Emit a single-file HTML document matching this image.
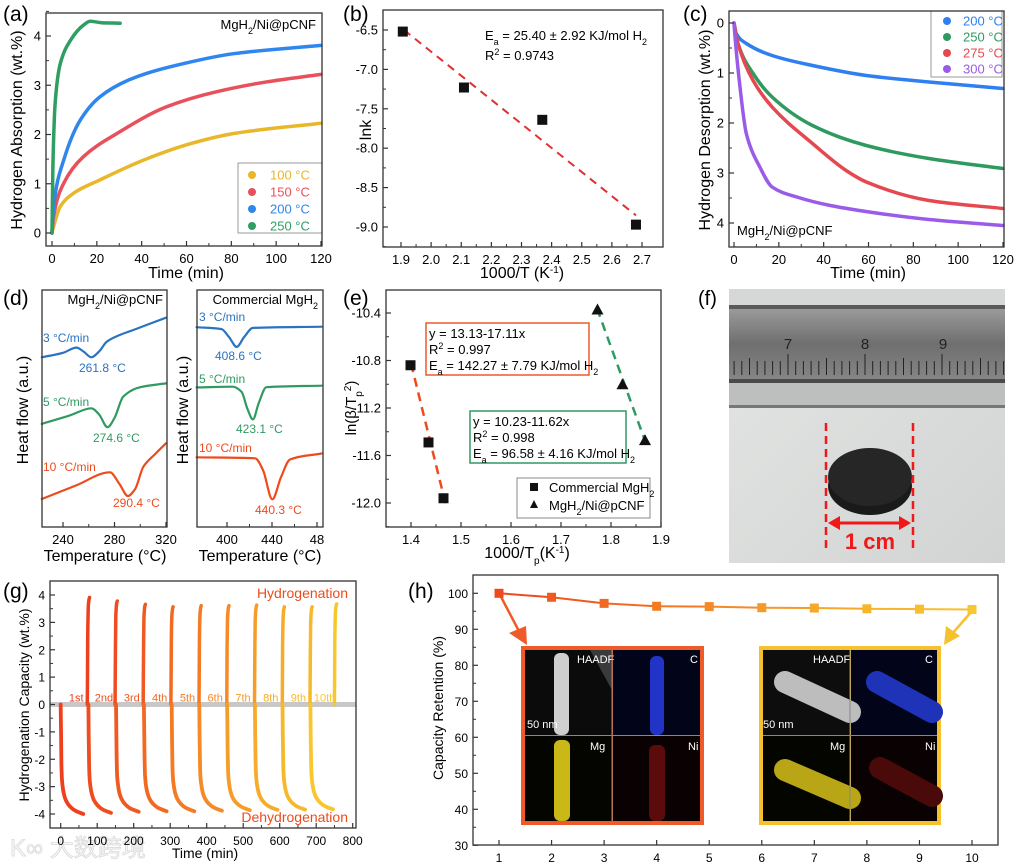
<!DOCTYPE html>
<html><head><meta charset="utf-8"><style>
html,body{margin:0;padding:0;background:#fff;}
svg{display:block;font-family:"Liberation Sans","Noto Sans CJK SC",sans-serif;}
</style></head><body>
<svg id="fig" width="1014" height="865" viewBox="0 0 1014 865">
<defs>
<linearGradient id="rulerG" x1="0" y1="0" x2="0" y2="1"><stop offset="0" stop-color="#9a9a9a"/><stop offset="0.5" stop-color="#6f6f6f"/><stop offset="1" stop-color="#858585"/></linearGradient>
<linearGradient id="bgG" x1="0" y1="0" x2="1" y2="1"><stop offset="0" stop-color="#e4e6e5"/><stop offset="1" stop-color="#d2d4d3"/></linearGradient>
</defs>
<text x="3" y="21" font-size="21">(a)</text>
<text x="343" y="21" font-size="21">(b)</text>
<text x="683" y="21" font-size="21">(c)</text>
<text x="3" y="305" font-size="21">(d)</text>
<text x="343" y="305" font-size="21">(e)</text>
<text x="698" y="305" font-size="20">(f)</text>
<text x="3" y="598" font-size="21">(g)</text>
<text x="408" y="598" font-size="21">(h)</text>

<text transform="translate(22,130) rotate(-90)" text-anchor="middle" font-size="16">Hydrogen Absorption (wt.%)</text>
<text x="186" y="278" text-anchor="middle" font-size="16">Time (min)</text>
<text transform="translate(371,130) rotate(-90)" text-anchor="middle" font-size="16">lnk</text>
<text x="522" y="278" text-anchor="middle" font-size="16">1000/T (K<tspan baseline-shift="super" font-size="10">-1</tspan>)</text>
<text transform="translate(710,130) rotate(-90)" text-anchor="middle" font-size="16">Hydrogen Desorption (wt.%)</text>
<text x="868" y="278" text-anchor="middle" font-size="16">Time (min)</text>
<text transform="translate(28,410) rotate(-90)" text-anchor="middle" font-size="16">Heat flow (a.u.)</text>
<text transform="translate(188,410) rotate(-90)" text-anchor="middle" font-size="16">Heat flow (a.u.)</text>
<text x="105" y="561" text-anchor="middle" font-size="16">Temperature (°C)</text>
<text x="260" y="561" text-anchor="middle" font-size="16">Temperature (°C)</text>
<text transform="translate(356,408) rotate(-90)" text-anchor="middle" font-size="15">ln(β/T<tspan baseline-shift="sub" font-size="10">p</tspan><tspan baseline-shift="super" font-size="10">2</tspan>)</text>
<text x="527" y="558" text-anchor="middle" font-size="16">1000/T<tspan baseline-shift="sub" font-size="10">p</tspan>(K<tspan baseline-shift="super" font-size="10">-1</tspan>)</text>
<text transform="translate(29,705) rotate(-90)" text-anchor="middle" font-size="14">Hydrogenation Capacity (wt.%)</text>
<text x="205" y="858" text-anchor="middle" font-size="14">Time (min)</text>
<text transform="translate(443,708) rotate(-90)" text-anchor="middle" font-size="14">Capacity Retention (%)</text>

<text x="316" y="29" text-anchor="end" font-size="13">MgH<tspan baseline-shift="sub" font-size="9">2</tspan>/Ni@pCNF</text>
<text x="485" y="40" font-size="13">E<tspan baseline-shift="sub" font-size="9">a</tspan> = 25.40 ± 2.92 KJ/mol H<tspan baseline-shift="sub" font-size="9">2</tspan></text>
<text x="485" y="60" font-size="13">R<tspan baseline-shift="super" font-size="9">2</tspan> = 0.9743</text>
<text x="737" y="235" font-size="13">MgH<tspan baseline-shift="sub" font-size="9">2</tspan>/Ni@pCNF</text>
<text x="163" y="304" text-anchor="end" font-size="13">MgH<tspan baseline-shift="sub" font-size="9">2</tspan>/Ni@pCNF</text>
<text x="318" y="304" text-anchor="end" font-size="13">Commercial MgH<tspan baseline-shift="sub" font-size="9">2</tspan></text>
<g font-size="12">
<text x="43" y="342" fill="#2a73c0">3 °C/min</text>
<text x="79" y="372" fill="#2a73c0">261.8 °C</text>
<text x="43" y="406" fill="#2f9a62">5 °C/min</text>
<text x="93" y="442" fill="#2f9a62">274.6 °C</text>
<text x="43" y="471" fill="#ee4b1c">10 °C/min</text>
<text x="113" y="507" fill="#ee4b1c">290.4 °C</text>
<text x="199" y="321" fill="#2a73c0">3 °C/min</text>
<text x="215" y="360" fill="#2a73c0">408.6 °C</text>
<text x="199" y="383" fill="#2f9a62">5 °C/min</text>
<text x="236" y="433" fill="#2f9a62">423.1 °C</text>
<text x="199" y="452" fill="#ee4b1c">10 °C/min</text>
<text x="255" y="514" fill="#ee4b1c">440.3 °C</text>
</g>
<rect x="426" y="323" width="163" height="52" fill="none" stroke="#ee5a2a" stroke-width="1.5"/>
<g font-size="13">
<text x="429" y="338">y = 13.13-17.11x</text>
<text x="429" y="354">R<tspan baseline-shift="super" font-size="9">2</tspan> = 0.997</text>
<text x="429" y="370">E<tspan baseline-shift="sub" font-size="9">a</tspan> = 142.27 ± 7.79 KJ/mol H<tspan baseline-shift="sub" font-size="9">2</tspan></text>
</g>
<rect x="470" y="411" width="156" height="52" fill="none" stroke="#2f9a62" stroke-width="1.5"/>
<g font-size="13">
<text x="473" y="426">y = 10.23-11.62x</text>
<text x="473" y="442">R<tspan baseline-shift="super" font-size="9">2</tspan> = 0.998</text>
<text x="473" y="458">E<tspan baseline-shift="sub" font-size="9">a</tspan> = 96.58 ± 4.16 KJ/mol H<tspan baseline-shift="sub" font-size="9">2</tspan></text>
</g>
<rect x="517" y="478" width="133" height="40" fill="#fff" stroke="#888" stroke-width="1"/>
<rect x="530" y="483" width="8" height="8" fill="#111"/>
<text x="549" y="492" font-size="13">Commercial MgH<tspan baseline-shift="sub" font-size="9">2</tspan></text>
<polygon points="534,500 530,508 538,508" fill="#111"/>
<text x="549" y="510" font-size="13">MgH<tspan baseline-shift="sub" font-size="9">2</tspan>/Ni@pCNF</text>
<text x="348" y="598" text-anchor="end" font-size="14" fill="#ee4b1c">Hydrogenation</text>
<text x="348" y="822" text-anchor="end" font-size="14" fill="#ee4b1c">Dehydrogenation</text>

<rect x="238" y="163" width="84" height="70" fill="#fff" stroke="#999"/>
<rect x="931" y="11" width="71" height="66" fill="#fff" stroke="#999"/>

<g>
<rect x="729" y="289" width="276" height="274" fill="url(#bgG)"/>
<rect x="729" y="289" width="276" height="18" fill="#d6d8d7"/>
<rect x="729" y="305" width="276" height="4" fill="#5a5a5a"/>
<rect x="729" y="309" width="276" height="70" fill="url(#rulerG)"/>
<rect x="729" y="379" width="276" height="4" fill="#4a4a4a"/>
<rect x="729" y="383" width="276" height="22" fill="#bdbfbe"/>
<rect x="729" y="405" width="276" height="3" fill="#777"/>
<g id="rulerTicks" stroke="#222" stroke-width="1"></g>
<text x="788" y="349" text-anchor="middle" font-size="15" fill="#222">7</text>
<text x="865" y="349" text-anchor="middle" font-size="15" fill="#222">8</text>
<text x="943" y="349" text-anchor="middle" font-size="15" fill="#222">9</text>
<ellipse cx="870" cy="486" rx="42" ry="29" fill="#1a1a1a"/>
<ellipse cx="870" cy="477" rx="42" ry="29" fill="#262626"/>
<line x1="826" y1="423" x2="826" y2="553" stroke="#f01818" stroke-width="2.5" stroke-dasharray="8,5"/>
<line x1="913" y1="423" x2="913" y2="553" stroke="#f01818" stroke-width="2.5" stroke-dasharray="8,5"/>
<line x1="833" y1="523" x2="906" y2="523" stroke="#f01818" stroke-width="3"/>
<polygon points="828,523 840,516 840,530" fill="#f01818"/>
<polygon points="911,523 899,516 899,530" fill="#f01818"/>
<text x="870" y="549" text-anchor="middle" font-size="22" font-weight="bold" fill="#f01818">1 cm</text>
</g>

<g>
<rect x="521" y="646" width="183" height="179" fill="#ee5a2a"/>
<rect x="525" y="650" width="87" height="85" fill="#0b0b0b"/>
<rect x="613" y="650" width="87" height="85" fill="#02041a"/>
<rect x="525" y="736" width="87" height="85" fill="#050500"/>
<rect x="613" y="736" width="87" height="85" fill="#0a0202"/>
<polygon points="590,650 612,650 612,690" fill="#3a3a3a"/>
<rect x="554" y="653" width="15" height="82" rx="6" fill="#cfcfcf"/>
<rect x="650" y="656" width="14" height="79" rx="6" fill="#2234c8"/>
<rect x="554" y="740" width="16" height="81" rx="6" fill="#c9b818"/>
<rect x="649" y="745" width="16" height="76" rx="6" fill="#5a0c0c"/>
<text x="577" y="663" font-size="11" fill="#fff">HAADF</text>
<text x="690" y="663" font-size="11" fill="#fff">C</text>
<text x="590" y="750" font-size="11" fill="#fff">Mg</text>
<text x="688" y="750" font-size="11" fill="#fff">Ni</text>
<text x="527" y="728" font-size="11" fill="#fff">50 nm</text>
<line x1="612" y1="650" x2="612" y2="821" stroke="#888"/><line x1="525" y1="735.5" x2="700" y2="735.5" stroke="#888"/>
</g>
<g>
<rect x="759" y="646" width="182" height="179" fill="#f5c12e"/>
<rect x="763" y="650" width="87" height="85" fill="#0d0d0d"/>
<rect x="851" y="650" width="86" height="85" fill="#02041a"/>
<rect x="763" y="736" width="87" height="85" fill="#050500"/>
<rect x="851" y="736" width="86" height="85" fill="#0a0202"/>
<line x1="785" y1="682" x2="850" y2="712" stroke="#bdbdbd" stroke-width="22" stroke-linecap="round"/>
<line x1="877" y1="682" x2="932" y2="712" stroke="#1f33b8" stroke-width="22" stroke-linecap="round"/>
<line x1="785" y1="770" x2="850" y2="798" stroke="#b8a616" stroke-width="22" stroke-linecap="round"/>
<line x1="880" y1="768" x2="932" y2="796" stroke="#4a0a0a" stroke-width="22" stroke-linecap="round"/>
<text x="813" y="663" font-size="11" fill="#fff">HAADF</text>
<text x="925" y="663" font-size="11" fill="#fff">C</text>
<text x="830" y="750" font-size="11" fill="#fff">Mg</text>
<text x="925" y="750" font-size="11" fill="#fff">Ni</text>
<text x="763" y="728" font-size="11" fill="#fff">50 nm</text>
<line x1="850" y1="650" x2="850" y2="821" stroke="#888"/><line x1="763" y1="735.5" x2="937" y2="735.5" stroke="#888"/>
</g>
<line x1="499" y1="593" x2="521" y2="635" stroke="#ee5a2a" stroke-width="2.5"/>
<polygon points="527,645 509,633 526,626" fill="#ee5a2a"/>
<line x1="972" y1="611" x2="952" y2="634" stroke="#f5c12e" stroke-width="2.5"/>
<polygon points="944,645 946,626 960,636" fill="#f5c12e"/>

<text x="10" y="856" font-size="24" fill="#f8f8f8" stroke="#dadada" stroke-width="0.8">K∞ 大数跨境</text>
<g id="dyn"></g>
</svg>
<script>
const aTime100=[0,0.7,3.7,9.7,21.5,40.8,60,81,120];
const aVal100=[0,0.13,0.54,0.81,1.08,1.48,1.79,2.02,2.23];
const aTime150=[0,0.7,5.2,14,29,51,73.5,96,120];
const aVal150=[0,0.34,1.01,1.55,2.02,2.56,2.87,3.07,3.22];
const aTime200=[0,0.7,5.2,12.6,21.5,36,58.7,81,120];
const aVal200=[0,0.54,1.48,2.29,2.77,3.14,3.44,3.64,3.81];
const aTime250=[0,0.4,1.5,3.7,8.2,14,17,22,30.4];
const aVal250=[0,1.35,2.7,3.44,3.91,4.22,4.3,4.27,4.26];
const aLegend=['100 °C','150 °C','200 °C','250 °C'];

const bX=[1.906,2.109,2.369,2.68];
const bY=[-6.52,-7.23,-7.64,-8.97];
const bFit=[-0.665,-3.055];
const bFitRange=[1.91,2.68];

const cTime200=[0,1,5.5,17,35,59,87,120];
const cVal200=[0,0.21,0.41,0.65,0.85,1.05,1.18,1.31];
const cTime250=[0,1.8,8.5,17,35,59,87,120];
const cVal250=[0,0.41,1.01,1.48,2.05,2.45,2.71,2.91];
const cTime275=[0,1.8,8.5,17,35,50,59,87,120];
const cVal275=[0,0.41,1.15,1.68,2.41,2.95,3.18,3.55,3.71];
const cTime300=[0,0.7,2.5,5.5,11.5,17,28,43,65,87,120];
const cVal300=[0,0.41,1.21,2.21,2.88,3.28,3.48,3.65,3.81,3.93,4.05];
const cLegend=['200 °C','250 °C','275 °C','300 °C'];

const d1T3=[223.5,240,250.6,256,262,268,274,284,294.4,320];
const d1V3=[71.6,73.5,75.7,74,71.6,74,78.2,81,83.1,88.3];
const d1T5=[223.5,245,262,268,274.6,280,286.8,300,320];
const d1V5=[43.5,47,50.1,47.5,42.1,46,55,59,60.6];
const d1T10=[223.5,250,276.5,284,290.4,296,302.4,312,320];
const d1V10=[11.8,17.5,23.1,18,13.1,16,25.4,31,35.3];
const d2T3=[373,395,402,408.6,415,423,484];
const d2V3=[84.3,83.5,80,76,80,84,84.5];
const d2T5=[373,405,413,418,423.1,428,435,484];
const d2V5=[58.9,59.2,57,50,45.4,52,59,59.6];
const d2T10=[373,425,432,440.3,448,456,484];
const d2V10=[29.4,29,24,11.7,21,28.5,31];

const eXc=[1.399,1.435,1.465];
const eYc=[-10.84,-11.49,-11.96];
const eXn=[1.773,1.823,1.868];
const eYn=[-10.37,-11.0,-11.47];
const eFitC=[13.13,-17.11]; const eFitCRange=[1.40,1.47];
const eFitN=[10.23,-11.62]; const eFitNRange=[1.772,1.87];

const gDehydStart=[0,75.8,151.6,228,304,379.6,456,532,607.6,684];
const gDehydMin=[-4.0,-3.96,-3.92,-3.9,-3.9,-3.88,-3.86,-3.85,-3.84,-3.83];
const gHydroStart=[73,149,226,302,379,455,531,607,683,750];
const gHydroPeak=[3.91,3.78,3.66,3.57,3.61,3.61,3.63,3.57,3.57,3.67];
const gLabels=['1st','2nd','3rd','4th','5th','6th','7th','8th','9th','10th'];
const gDehydShapeT=[0,1,2,3,5,9,15,25,40,62];
const gDehydShapeF=[0,0.3,0.55,0.66,0.74,0.82,0.88,0.93,0.97,1.0];
const gHydroShapeT=[0,1,2,3,4.5,6];
const gHydroShapeF=[0,0.6,0.85,0.93,0.98,1.0];

const hCycle=[1,2,3,4,5,6,7,8,9,10];
const hRetention=[100,98.9,97.2,96.4,96.3,96.0,95.9,95.7,95.6,95.5];

const NS='http://www.w3.org/2000/svg';
const root=document.getElementById('dyn');
function lin(d0,d1,p0,p1){return v=>p0+(v-d0)*(p1-p0)/(d1-d0);}
function mk(tag,attrs,name,parent){
  const e=document.createElementNS(NS,tag);
  for(const k in attrs) e.setAttribute(k,attrs[k]);
  
  
  (parent||root).appendChild(e);
  return e;
}
function frame(b,name){mk('rect',{x:b[0],y:b[1],width:b[2]-b[0],height:b[3]-b[1],fill:'none',stroke:'#333','stroke-width':1.3},name);}
function xticks(b,sx,majors,labels,minors,name,fs){
  majors.forEach((v,i)=>{
    const x=sx(v);
    mk('line',{x1:x,y1:b[3],x2:x,y2:b[3]-5,stroke:'#333','stroke-width':1.2},name+'-tick');
    const t=mk('text',{x:x,y:b[3]+17,'text-anchor':'middle','font-size':fs||13},name+'-tick-label');
    t.textContent=labels[i];
  });
  (minors||[]).forEach(v=>{const x=sx(v);mk('line',{x1:x,y1:b[3],x2:x,y2:b[3]-3,stroke:'#333'},name+'-minor-tick');});
}
function yticks(b,sy,majors,labels,minors,name,fs){
  majors.forEach((v,i)=>{
    const y=sy(v);
    mk('line',{x1:b[0],y1:y,x2:b[0]+5,y2:y,stroke:'#333','stroke-width':1.2},name+'-tick');
    const t=mk('text',{x:b[0]-5,y:y+4.5,'text-anchor':'end','font-size':fs||13},name+'-tick-label');
    t.textContent=labels[i];
  });
  (minors||[]).forEach(v=>{const y=sy(v);mk('line',{x1:b[0],y1:y,x2:b[0]+3,y2:y,stroke:'#333'},name+'-minor-tick');});
}
function range(a,b,s){const r=[];for(let v=a;v<=b+1e-9;v+=s)r.push(+v.toFixed(4));return r;}
// monotone cubic spline in pixel space
function smoothD(px,py){
  const n=px.length; if(n<3){let d='M'+px[0]+','+py[0];for(let i=1;i<n;i++)d+='L'+px[i]+','+py[i];return d;}
  const dx=[],s=[];for(let i=0;i<n-1;i++){dx.push(px[i+1]-px[i]);s.push((py[i+1]-py[i])/(dx[i]||1e-6));}
  const m=[s[0]];for(let i=1;i<n-1;i++){m.push(s[i-1]*s[i]<=0?0:(3*(dx[i-1]+dx[i]))/((2*dx[i]+dx[i-1])/s[i-1]+(dx[i]+2*dx[i-1])/s[i]));}
  m.push(s[n-2]);
  let d='M'+px[0].toFixed(1)+','+py[0].toFixed(1);
  for(let i=0;i<n-1;i++){const h=dx[i]/3;
    d+='C'+(px[i]+h).toFixed(1)+','+(py[i]+m[i]*h).toFixed(1)+' '+(px[i+1]-h).toFixed(1)+','+(py[i+1]-m[i+1]*h).toFixed(1)+' '+px[i+1].toFixed(1)+','+py[i+1].toFixed(1);}
  return d;
}
function path(xs,ys,sx,sy,attrs,name){
  const d=smoothD(xs.map(sx),ys.map(sy));
  const a=Object.assign({d:d,fill:'none','stroke-linejoin':'round','stroke-linecap':'round'},attrs);
  return mk('path',a,name);
}

const A=[46,13,322,246], axA=lin(0,120,52,321), ayA=lin(0,4,233,36);
path(aTime100,aVal100,axA,ayA,{stroke:'#e8b72a','stroke-width':3.5},'curve-100c');
path(aTime150,aVal150,axA,ayA,{stroke:'#e8505b','stroke-width':3.5},'curve-150c');
path(aTime200,aVal200,axA,ayA,{stroke:'#2f86ef','stroke-width':3.5},'curve-200c');
path(aTime250,aVal250,axA,ayA,{stroke:'#2e9e63','stroke-width':3.5},'curve-250c');
frame(A,'plot-frame-a');
xticks(A,axA,range(0,120,20),range(0,120,20).map(String),range(10,110,20),'x-axis-a');
yticks(A,ayA,range(0,4,1),range(0,4,1).map(String),range(0.5,4.5,1),'y-axis-a');
const aCols=['#e8b72a','#e8505b','#2f86ef','#2e9e63'];
aLegend.forEach((s,i)=>{const y=175+i*17;
  mk('circle',{cx:252,cy:y,r:4,fill:aCols[i]},'legend-marker-a');
  const t=mk('text',{x:270,y:y+4.5,'font-size':13,fill:aCols[i]},'legend-entry-a');t.textContent=s;});

const B=[383,10,663,247], axB=lin(1.9,2.7,401,642), ayB=lin(-6.5,-9,30,227);
mk('line',{x1:axB(bFitRange[0]),y1:ayB(bFit[0]+bFit[1]*bFitRange[0]),x2:axB(bFitRange[1]),y2:ayB(bFit[0]+bFit[1]*bFitRange[1]),stroke:'#e03030','stroke-width':2,'stroke-dasharray':'8,6'},'fit-line-b');
bX.forEach((x,i)=>{mk('rect',{x:axB(x)-5,y:ayB(bY[i])-5,width:10,height:10,fill:'#111'},'data-point-b');});
frame(B,'plot-frame-b');
const bxt=range(1.9,2.7,0.1);
xticks(B,axB,bxt,bxt.map(v=>v.toFixed(1)),range(1.95,2.65,0.1),'x-axis-b');
const byt=[-6.5,-7,-7.5,-8,-8.5,-9];
yticks(B,ayB,byt,byt.map(v=>v.toFixed(1)),[-6.75,-7.25,-7.75,-8.25,-8.75,-9.25],'y-axis-b');

const C=[729,11,1004,247], axC=lin(0,120,734,1003), ayC=lin(0,4,23,223);
const cCols=['#2f7ff0','#2f9a5f','#e5484f','#9a5ce8'];
path(cTime200,cVal200,axC,ayC,{stroke:cCols[0],'stroke-width':3.5},'curve-200c-desorb');
path(cTime250,cVal250,axC,ayC,{stroke:cCols[1],'stroke-width':3.5},'curve-250c-desorb');
path(cTime275,cVal275,axC,ayC,{stroke:cCols[2],'stroke-width':3.5},'curve-275c-desorb');
path(cTime300,cVal300,axC,ayC,{stroke:cCols[3],'stroke-width':3.5},'curve-300c-desorb');
frame(C,'plot-frame-c');
xticks(C,axC,range(0,120,20),range(0,120,20).map(String),range(10,110,20),'x-axis-c');
yticks(C,ayC,range(0,4,1),range(0,4,1).map(String),range(0.5,4,1),'y-axis-c');
cLegend.forEach((s,i)=>{const y=21+i*16;
  mk('circle',{cx:947,cy:y,r:4,fill:cCols[i]},'legend-marker-c');
  const t=mk('text',{x:963,y:y+4.5,'font-size':13,fill:cCols[i]},'legend-entry-c');t.textContent=s;});

const D1=[42,290,167,527], axD1=lin(240,320,63,166), ayD=lin(0,100,527,290);
const D2=[197,290,323,527], axD2=lin(400,440,227,272);
path(d1T3,d1V3,axD1,ayD,{stroke:'#2a73c0','stroke-width':2.2},'dsc-pcnf-3');
path(d1T5,d1V5,axD1,ayD,{stroke:'#2f9a62','stroke-width':2.2},'dsc-pcnf-5');
path(d1T10,d1V10,axD1,ayD,{stroke:'#ee4b1c','stroke-width':2.2},'dsc-pcnf-10');
path(d2T3,d2V3,axD2,ayD,{stroke:'#2a73c0','stroke-width':2.2},'dsc-commercial-3');
path(d2T5,d2V5,axD2,ayD,{stroke:'#2f9a62','stroke-width':2.2},'dsc-commercial-5');
path(d2T10,d2V10,axD2,ayD,{stroke:'#ee4b1c','stroke-width':2.2},'dsc-commercial-10');
frame(D1,'plot-frame-d-left');frame(D2,'plot-frame-d-right');
xticks(D1,axD1,[240,280,320],['240','280','320'],[260,300],'x-axis-d-left');
xticks(D2,axD2,[400,440,480],['400','440','48'],[420,460],'x-axis-d-right');

const E=[386,290,661,527], axE=lin(1.4,1.9,411,661), ayE=lin(-10.4,-12,313,503);
mk('line',{x1:axE(eFitCRange[0]),y1:ayE(eFitC[0]+eFitC[1]*eFitCRange[0]),x2:axE(eFitCRange[1]),y2:ayE(eFitC[0]+eFitC[1]*eFitCRange[1]),stroke:'#ee4b1c','stroke-width':2.5,'stroke-dasharray':'9,6'},'fit-line-commercial');
mk('line',{x1:axE(eFitNRange[0]),y1:ayE(eFitN[0]+eFitN[1]*eFitNRange[0]),x2:axE(eFitNRange[1]),y2:ayE(eFitN[0]+eFitN[1]*eFitNRange[1]),stroke:'#2f9a62','stroke-width':2.5,'stroke-dasharray':'9,6'},'fit-line-pcnf');
eXc.forEach((x,i)=>{mk('rect',{x:axE(x)-5,y:ayE(eYc[i])-5,width:10,height:10,fill:'#111'},'data-point-commercial');});
eXn.forEach((x,i)=>{const px=axE(x),py=ayE(eYn[i]);
  mk('polygon',{points:(px)+','+(py-6)+' '+(px-6)+','+(py+5)+' '+(px+6)+','+(py+5),fill:'#111'},'data-point-pcnf');});
frame(E,'plot-frame-e');
const ext=range(1.4,1.9,0.1);
xticks(E,axE,ext,ext.map(v=>v.toFixed(1)),range(1.35,1.85,0.1),'x-axis-e');
const eyt=[-10.4,-10.8,-11.2,-11.6,-12.0];
yticks(E,ayE,eyt,eyt.map(v=>v.toFixed(1)),[-10.6,-11.0,-11.4,-11.8,-12.2],'y-axis-e');

const G=[50,581,356,828], axG=lin(0,800,60.7,352.7), ayG=lin(4,-4,595,814);
mk('rect',{x:G[0],y:ayG(0)-2.5,width:G[2]-G[0],height:5,fill:'#c8c8c8'},'zero-band-g');
const gCols=['#ee3f1e','#ef4c1f','#f05a20','#f26a22','#f47a24','#f58a26','#f69c28','#f6ac2a','#f7b92c','#f8c62f'];
gDehydStart.forEach((s,i)=>{
  const xs=gDehydShapeT.map(t=>s+t), ys=gDehydShapeF.map(f=>f*gDehydMin[i]);
  path(xs,ys,axG,ayG,{stroke:gCols[i],'stroke-width':3.8},'dehydrogenation-cycle');
  const hx=gHydroShapeT.map(t=>gHydroStart[i]+t), hy=gHydroShapeF.map(f=>f*gHydroPeak[i]);
  path(hx,hy,axG,ayG,{stroke:gCols[i],'stroke-width':3.5},'hydrogenation-cycle');
  const t=mk('text',{x:axG((s+gHydroStart[i])/2+6),y:ayG(0)-3,'text-anchor':'middle','font-size':11,fill:gCols[i]},'cycle-label');
  t.textContent=gLabels[i];
});
frame(G,'plot-frame-g');
xticks(G,axG,range(0,800,100),range(0,800,100).map(String),range(50,750,100),'x-axis-g',12);
yticks(G,ayG,range(-4,4,1),range(-4,4,1).map(String),range(-3.5,3.5,1),'y-axis-g',12);

const H=[473,575,998,845], axH=lin(1,10,499,972), ayH=lin(100,30,593.3,845.3);
const hCols=['#ee4b1c','#ef5a1f','#f06a22','#f27a24','#f38a26','#f49a28','#f5a92a','#f6b52b','#f7bf2d','#f8c62f'];
for(let i=0;i<hCycle.length-1;i++){
  mk('line',{x1:axH(hCycle[i]),y1:ayH(hRetention[i]),x2:axH(hCycle[i+1]),y2:ayH(hRetention[i+1]),stroke:hCols[i],'stroke-width':2},'retention-line');
}
hCycle.forEach((c,i)=>{mk('rect',{x:axH(c)-4.5,y:ayH(hRetention[i])-4.5,width:9,height:9,fill:hCols[i]},'retention-point');});
frame(H,'plot-frame-h');
xticks(H,axH,hCycle,hCycle.map(String),[],'x-axis-h',12);
yticks(H,ayH,range(30,100,10),range(30,100,10).map(String),range(35,95,10),'y-axis-h',12);

const rt=document.getElementById('rulerTicks');
for(let k=-8;k<=35;k++){const x=788+(k*7.7);if(x<730||x>1004)continue;
  const major=(k%10===0), half=(k%5===0);
  mk('line',{x1:x,y1:major?354:(half?358:361),x2:x,y2:375},'ruler-tick',rt);
}
</script>
</body></html>
